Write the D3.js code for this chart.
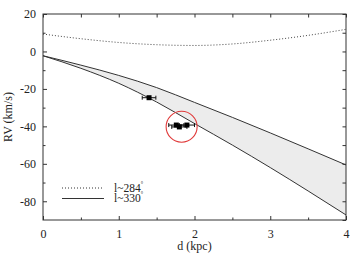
<!DOCTYPE html>
<html>
<head>
<meta charset="utf-8">
<script src="https://cdn.jsdelivr.net/npm/d3@7"></script>
<style>
  body { margin: 0; background: #fff; }
  svg { display: block; }
  svg text { font-family: "Liberation Serif", "DejaVu Serif", "Times New Roman", Times, serif; }
</style>
</head>
<body>
<svg width="352" height="254"></svg>
<script>
// model curves, sampled every 0.5 kpc
var dGrid = [0, 0.5, 1, 1.5, 2, 2.5, 3, 3.5, 4];
var rv284 = [9.3, 6.8, 4.8, 3.6, 3.2, 4.0, 6.0, 8.6, 11.8];
var rv330Upper = [-2.3, -7.3, -12.8, -19.3, -27.2, -35.2, -43.5, -52, -60.6];
var rv330Lower = [-2.3, -9, -17, -27, -38.5, -50, -62, -74.5, -87.3];

// observed objects
var obsD = [1.40, 1.76, 1.80, 1.90];
var obsRV = [-24.7, -39.3, -40.3, -39.3];
var obsErr = [0.09, 0.1, 0.1, 0.1];

var xTicks = [0, 1, 2, 3, 4];
var yTicks = [20, 0, -20, -40, -60, -80];
var legendLabels = ["l~284", "l~330"];

var svg = d3.select("svg");
var margin = {left: 43, right: 6, top: 14, bottom: 34};
var width = 352, height = 254;
var serif = '"Liberation Serif", "DejaVu Serif", "Times New Roman", serif';

var x = d3.scaleLinear().domain([0, 4]).range([margin.left, width - margin.right]);
var y = d3.scaleLinear().domain([-90, 20]).range([height - margin.bottom, margin.top]);

var ink = "#333";

// band between the two l~330 curves
var band = dGrid.map(function(d, i) { return {d: d, lo: rv330Lower[i], hi: rv330Upper[i]}; });
svg.append("path")
  .datum(band)
  .attr("fill", "#ececec")
  .attr("d", d3.area().curve(d3.curveMonotoneX)
    .x(function(p) { return x(p.d); })
    .y0(function(p) { return y(p.lo); })
    .y1(function(p) { return y(p.hi); }));

var line = d3.line().curve(d3.curveMonotoneX)
  .x(function(p) { return x(p[0]); })
  .y(function(p) { return y(p[1]); });

[rv330Upper, rv330Lower].forEach(function(arr) {
  svg.append("path")
    .datum(d3.zip(dGrid, arr))
    .attr("fill", "none")
    .attr("stroke", ink)
    .attr("stroke-width", 1)
    .attr("d", line);
});

svg.append("path")
  .datum(d3.zip(dGrid, rv284))
  .attr("fill", "none")
  .attr("stroke", "#444")
  .attr("stroke-width", 1)
  .attr("stroke-dasharray", "1,2")
  .attr("d", line);

// error bars + markers
var obs = obsD.map(function(d, i) { return {d: d, rv: obsRV[i], e: obsErr[i]}; });
var g = svg.append("g").attr("stroke", "#111").attr("stroke-width", 1);
g.selectAll("line.err").data(obs).enter().append("line")
  .attr("x1", function(o) { return x(o.d - o.e); })
  .attr("x2", function(o) { return x(o.d + o.e); })
  .attr("y1", function(o) { return y(o.rv); })
  .attr("y2", function(o) { return y(o.rv); });
g.selectAll("line.capl").data(obs).enter().append("line")
  .attr("x1", function(o) { return x(o.d - o.e); })
  .attr("x2", function(o) { return x(o.d - o.e); })
  .attr("y1", function(o) { return y(o.rv) - 2; })
  .attr("y2", function(o) { return y(o.rv) + 2; });
g.selectAll("line.capr").data(obs).enter().append("line")
  .attr("x1", function(o) { return x(o.d + o.e); })
  .attr("x2", function(o) { return x(o.d + o.e); })
  .attr("y1", function(o) { return y(o.rv) - 2; })
  .attr("y2", function(o) { return y(o.rv) + 2; });
svg.selectAll("rect.mk").data(obs).enter().append("rect")
  .attr("fill", "#000")
  .attr("width", 5).attr("height", 5)
  .attr("x", function(o) { return x(o.d) - 2.5; })
  .attr("y", function(o) { return y(o.rv) - 2.5; });

// red highlight circle
svg.append("circle")
  .attr("cx", x(1.83)).attr("cy", y(-40.2)).attr("r", 15.5)
  .attr("fill", "none").attr("stroke", "#e03a3a").attr("stroke-width", 1.1);

// frame and ticks on all sides
svg.append("rect")
  .attr("x", x(0)).attr("y", y(20))
  .attr("width", x(4) - x(0)).attr("height", y(-90) - y(20))
  .attr("fill", "none").attr("stroke", ink).attr("stroke-width", 1);

var xb = svg.append("g").attr("transform", "translate(0," + y(-90) + ")")
  .call(d3.axisBottom(x).tickValues(xTicks).tickSize(-4).tickPadding(9).tickFormat(d3.format("d")));
var xbm = svg.append("g").attr("transform", "translate(0," + y(-90) + ")")
  .call(d3.axisBottom(x).tickValues([0.5, 1.5, 2.5, 3.5]).tickSize(-2.5).tickFormat(""));
var xt = svg.append("g").attr("transform", "translate(0," + y(20) + ")")
  .call(d3.axisTop(x).ticks(9).tickSize(-3.5).tickFormat(""));
var yl = svg.append("g").attr("transform", "translate(" + x(0) + ",0)")
  .call(d3.axisLeft(y).tickValues(yTicks).tickSize(-4).tickPadding(7).tickFormat(function(v) { return String(v); }));
var ylm = svg.append("g").attr("transform", "translate(" + x(0) + ",0)")
  .call(d3.axisLeft(y).tickValues([10, -10, -30, -50, -70]).tickSize(-2.5).tickFormat(""));
var yr = svg.append("g").attr("transform", "translate(" + x(4) + ",0)")
  .call(d3.axisRight(y).ticks(11).tickSize(-3.5).tickFormat(""));

[xb, xbm, xt, yl, ylm, yr].forEach(function(a) {
  a.attr("font-family", serif).attr("font-size", 12);
  a.select(".domain").remove();
  a.selectAll("line").attr("stroke", ink);
  a.selectAll("text").attr("fill", "#222");
});

// axis titles
svg.append("text")
  .attr("x", x(2)).attr("y", 250)
  .attr("text-anchor", "middle").attr("fill", "#222")
  .attr("font-family", serif).attr("font-size", 12)
  .text("d (kpc)");
svg.append("text")
  .attr("transform", "translate(12," + y(-35) + ") rotate(-90)")
  .attr("text-anchor", "middle").attr("fill", "#222")
  .attr("font-family", serif).attr("font-size", 12)
  .text("RV (km/s)");

// legend
var legStyles = [{dash: "1,2", y: 188}, {dash: null, y: 198.5}];
legStyles.forEach(function(s, i) {
  svg.append("line")
    .attr("x1", 62).attr("x2", 104).attr("y1", s.y).attr("y2", s.y)
    .attr("stroke", ink).attr("stroke-width", 1)
    .attr("stroke-dasharray", s.dash);
  var t = svg.append("text")
    .attr("x", 114).attr("y", s.y + 3.5)
    .attr("fill", "#222")
    .attr("font-family", serif).attr("font-size", 11.5)
    .text(legendLabels[i]);
  t.append("tspan").attr("dy", -6).attr("font-size", 6).text("°");
});
</script>
</body>
</html>
